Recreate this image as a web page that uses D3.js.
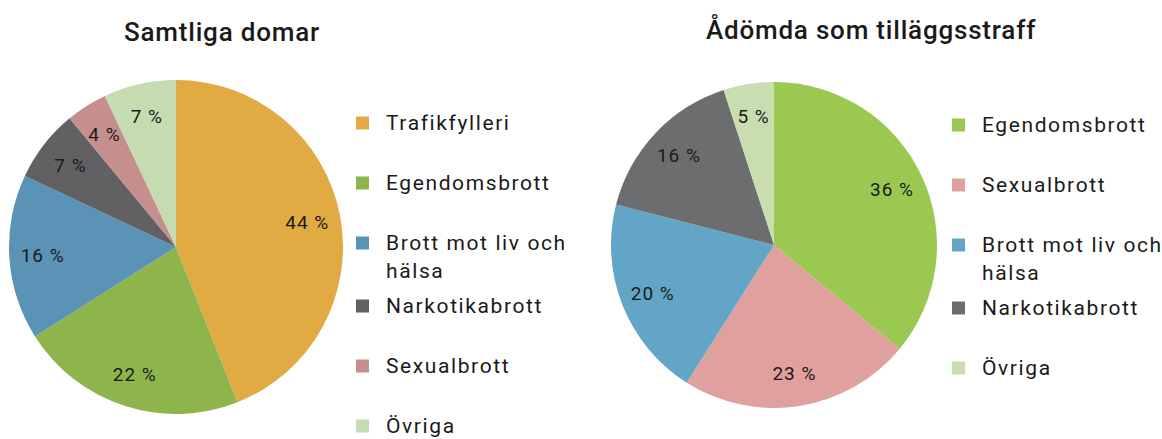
<!DOCTYPE html>
<html>
<head>
<meta charset="utf-8">
<script src="https://cdn.jsdelivr.net/npm/d3@7"></script>
<style>
  body { margin: 0; background: #fff; }
  svg text { font-family: Roboto, "Open Sans", sans-serif; fill: #1a1a1a; }
</style>
</head>
<body>
<div id="container"></div>
<script>
// data
var leftTitle = "Samtliga domar";
var leftCategories = ["Trafikfylleri", "Egendomsbrott", "Brott mot liv och hälsa", "Narkotikabrott", "Sexualbrott", "Övriga"];
var leftValues = [44, 22, 16, 7, 4, 7];
var leftColors = ["#e2aa42", "#8db54b", "#5a93b5", "#616163", "#c68f8e", "#c5dcb0"];

var rightTitle = "Ådömda som tilläggsstraff";
var rightCategories = ["Egendomsbrott", "Sexualbrott", "Brott mot liv och hälsa", "Narkotikabrott", "Övriga"];
var rightValues = [36, 23, 20, 16, 5];
var rightColors = ["#9bc850", "#dfa09e", "#62a5c6", "#6c6d6f", "#c8deb0"];

// legend line breaks (as wrapped in the original)
var wrapAt = {"Brott mot liv och hälsa": ["Brott mot liv och", "hälsa"]};

var width = 1162, height = 439;

var svg = d3.select("div#container")
  .append("svg")
  .attr("width", width)
  .attr("height", height);

function drawPie(cfg) {
  var g = svg.append("g");

  g.append("text")
    .attr("x", cfg.titleX)
    .attr("y", cfg.titleY)
    .attr("text-anchor", "middle")
    .style("font-size", "26px")
    .style("font-weight", "500")
    .style("letter-spacing", "0.8px")
    .text(cfg.title);

  var data = cfg.categories.map(function(c, i) { return {name: c, value: cfg.values[i], color: cfg.colors[i]}; });

  var pie = d3.pie()
    .sort(null)
    .value(function(d) { return d.value; });

  var arc = d3.arc().innerRadius(0).outerRadius(cfg.r);
  var labelArc = d3.arc().innerRadius(cfg.r * 0.8).outerRadius(cfg.r * 0.8);

  var slices = g.append("g")
    .attr("transform", "translate(" + [cfg.cx, cfg.cy] + ")")
    .selectAll("g")
    .data(pie(data))
    .enter().append("g");

  slices.append("path")
    .attr("d", arc)
    .attr("fill", function(d) { return d.data.color; });

  slices.append("text")
    .attr("transform", function(d) { return "translate(" + labelArc.centroid(d) + ")"; })
    .attr("text-anchor", "middle")
    .attr("dy", "0.35em")
    .style("font-size", "19px")
    .style("letter-spacing", "1px")
    .text(function(d) { return d.data.value + " %"; });

  // legend: ~60px per entry, a little more for wrapped ones
  var y = cfg.legendTop;
  data.forEach(function(d) {
    var lines = wrapAt[d.name] || [d.name];
    var item = g.append("g").attr("transform", "translate(" + [cfg.legendX, y] + ")");
    item.append("rect")
      .attr("x", 0).attr("y", -6.5)
      .attr("width", 13).attr("height", 13)
      .attr("fill", d.color);
    var t = item.append("text")
      .attr("x", 30)
      .attr("y", 0)
      .style("font-size", "21px")
      .style("letter-spacing", "1.6px");
    t.selectAll("tspan")
      .data(lines)
      .enter().append("tspan")
      .attr("x", 30)
      .attr("dy", function(l, i) { return i === 0 ? "0.35em" : "28px"; })
      .text(function(l) { return l; });
    y += 60 + (lines.length - 1) * 3;
  });
}

drawPie({
  title: leftTitle, categories: leftCategories, values: leftValues, colors: leftColors,
  titleX: 222, titleY: 41, cx: 176, cy: 247, r: 167, legendX: 356, legendTop: 123
});

drawPie({
  title: rightTitle, categories: rightCategories, values: rightValues, colors: rightColors,
  titleX: 871, titleY: 39, cx: 774, cy: 245, r: 163, legendX: 952, legendTop: 125
});
</script>
</body>
</html>
